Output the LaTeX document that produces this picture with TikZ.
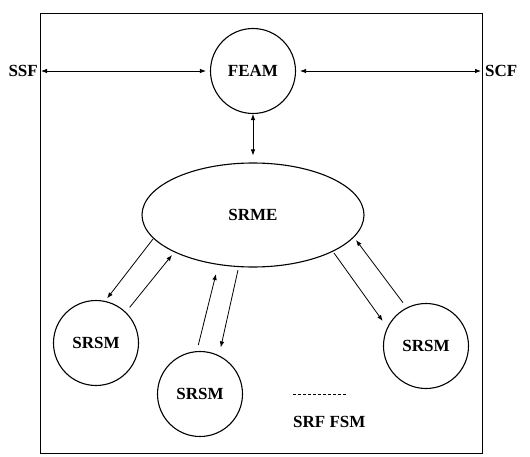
\documentclass[tikz,border=0pt]{standalone}
\usepackage{fontspec}
\setmainfont{Liberation Serif}
\usetikzlibrary{arrows.meta,shapes.geometric,calc}
\begin{document}
\begin{tikzpicture}[x=1pt,y=1pt,
  lbl/.style={font=\bfseries\fontsize{17}{17}\selectfont, inner sep=0pt},
  circ/.style={circle, draw, line width=1.1pt, minimum size=85pt, inner sep=0pt, font=\bfseries\fontsize{17}{17}\selectfont},
  conn/.style={line width=0.8pt, -{Latex[length=6pt,width=4.5pt]}},
  bconn/.style={line width=0.8pt, {Latex[length=6pt,width=4.5pt]}-{Latex[length=6pt,width=4.5pt]}}]
\useasboundingbox (0,0) rectangle (530,456);
\draw[line width=0.9pt] (40,3) rectangle (482,443);
\node[circ] (feam) at (253,385) {FEAM};
\node[ellipse, draw, line width=1.1pt, minimum width=222pt, minimum height=104pt, inner sep=0pt, font=\bfseries\fontsize{17}{17}\selectfont] (srme) at (253,241) {SRME};
\node[circ] (s1) at (96,113) {SRSM};
\node[circ] (s2) at (200,62) {SRSM};
\node[circ] (s3) at (426,110) {SRSM};
\node[lbl, anchor=east] (ssf) at (38,385) {SSF};
\node[lbl, anchor=west] (scf) at (485,385) {SCF};
\coordinate (ssfend) at (41,385);
\coordinate (scfend) at (481,385);
\draw[bconn] (ssfend) -- ([xshift=-4pt]feam.west);
\draw[bconn] ([xshift=4pt]feam.east) -- (scfend);
\draw[bconn] (feam.south) -- ([yshift=7pt]srme.north);
% left pair
\draw[conn] ($(srme)+(-100,-24)$) -- ($(s1)+(76:46)$);
\draw[conn] ($(s1)+(46.6:49)$) -- ($(srme)+(-81,-40)$);
% middle pair
\draw[conn] ($(s2)+(92:49)$) -- ($(srme)+(-37,-59)$);
\draw[conn] ($(srme)+(-15,-55)$) -- ($(s2)+(66:51)$);
% right pair
\draw[conn] ($(srme)+(81,-38)$) -- ($(s3)+(150:50)$);
\draw[conn] ($(s3)+(118:49)$) -- ($(srme)+(103,-25)$);
% legend
\node[lbl, anchor=west] (legend) at (293,34) {SRF FSM};
\draw[densely dashed, line width=0.6pt] ($(legend.west)+(0,28)$) coordinate (lg) -- ++(54,0);
\end{tikzpicture}
\end{document}
